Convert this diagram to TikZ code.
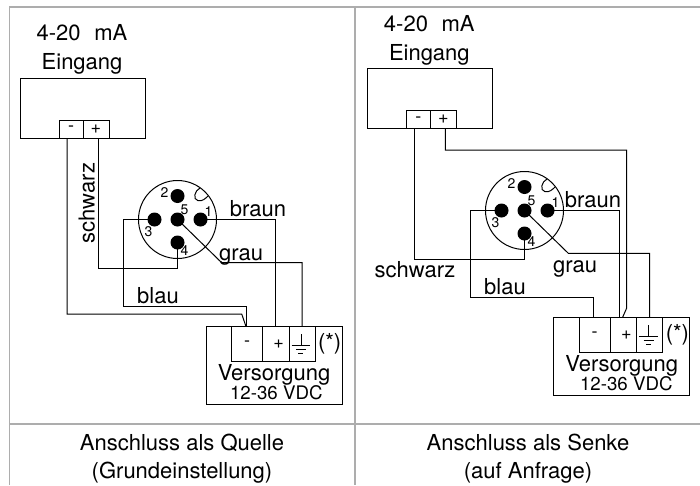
\documentclass[tikz,border=0pt]{standalone}
\usepackage{fontspec}
\setmainfont{TeX Gyre Heros}

\tikzset{
  rahmen/.style={draw=black!32, line width=1.5pt},
  wire/.style={draw, line width=1pt},
  box/.style={draw, line width=1pt, anchor=north west, inner sep=0pt, outer sep=0pt},
  klemme/.style={box, font=\fontsize{18}{20}\selectfont},
  beschr/.style={anchor=base, inner sep=0pt, font=\fontsize{22}{26}\selectfont},
  klein/.style={beschr, font=\fontsize{18.7}{22}\selectfont},
  nummer/.style={inner sep=0pt, font=\fontsize{14}{16}\selectfont},
  kontakt/.style={circle, fill=black, minimum size=14pt, inner sep=0pt},
}

\begin{document}
\begin{tikzpicture}[x=1pt,y=-1pt]
        \useasboundingbox (0,0) rectangle (700,485);
        \draw[rahmen] (9.5,485) -- (9.5,7) -- (700,7);
        \draw[rahmen] (355,7) -- (355,485);
        \draw[rahmen] (9.5,424) -- (700,424);

        % Stecker
        \foreach \pre/\cx/\cy in {L/177.5/219.5,R/524.5/210.5} {
          \begin{scope}[shift={(\cx,\cy)}]
            \node[circle, draw, line width=1pt, minimum size=78pt, inner sep=0pt] (\pre kreis) at (0,0) {};
            \draw[wire] (22.5,-31.5) .. controls (17,-29) and (15,-20) .. (20.5,-18.8) .. controls (25,-18) and (28,-21) .. (30.5,-23.5);
            \foreach \n/\x/\y/\lx/\ly in {1/23/0/31/-8,2/0/-23.5/-13/-27,3/-23/0/-29/12,4/0/23/7/31,5/0/0/7/-10} {
              \node[kontakt] (\pre p\n) at (\x,\y) {};
              \node[nummer] (\pre n\n) at (\lx,\ly) {\n};
            }
          \end{scope}
        }

        % Eingang und Versorgung
        \foreach \pre/\ex/\ey/\vx/\vy/\dx in {L/20/78/206/326.5/70.3,R/367.3/68.7/553.7/317.7/72.6} {
          \begin{scope}[shift={(\ex,\ey)}]
            \node[box, minimum width=125pt, minimum height=60pt] (\pre ein) at (0,0) {};
            \node[klemme, minimum width=24pt, minimum height=18pt] (\pre minus) at (39,42) {-};
            \node[klemme, minimum width=26pt, minimum height=18pt] (\pre plus) at (63,42) {+};
            \node[beschr] (\pre titel) at (62,-8.7) {Eingang};
            \node[beschr] (\pre strom) at (62,-37.3) {4-20\hskip.62em mA};
          \end{scope}
          \begin{scope}[shift={(\vx,\vy)}]
            \node[box, minimum width=136pt, minimum height=78pt] (\pre vers) at (0,0) {};
            \node[klemme, minimum width=31pt, minimum height=34.5pt] (\pre vminus) at (25.5,0) {\raisebox{-4pt}{-}};
            \node[klemme, minimum width=26.5pt, minimum height=34.5pt] (\pre vplus) at (56.5,0) {\raisebox{-4pt}{\hspace*{6pt}+}};
            \node[klemme, minimum width=26pt, minimum height=34.5pt] (\pre vgnd) at (83,0) {};
            \draw[wire] (95,7.5) -- (95,18.5) (85.7,18.5) -- (104,18.5);
            \draw[wire] (90,23) -- (100,23) (92.3,27) -- (97.3,27);
            \node[beschr] (\pre stern) at (123.7,23) {(*)};
            \node[beschr] (\pre versorgung) at (68,53.7) {Versorgung};
            \node[klein] (\pre vdc) at (\dx,72.6) {12-36 VDC};
          \end{scope}
        }

        % Quelle
        \node[beschr] (Lbraun) at (258,216.7) {braun};
        \node[beschr] (Lgrau) at (241,260) {grau};
        \node[beschr] (Lblau) at (158,303.3) {blau};
        \node[beschr, rotate=90] (Lschwarz) at (94.7,203) {schwarz};
        \draw[wire] ([xshift=-4pt]Lminus.south) |- (241.7,314) -- ([xshift=-1pt]Lvminus.north);
        \draw[wire] ([xshift=2pt]Lplus.south) |- (177.5,268) -- (Lp4.center);
        \draw[wire] (Lp3.center) -| (123.5,306.7) -| ([xshift=-1pt]Lvminus.north);
        \draw[wire] (Lp1.center) -| (Lvplus.north);
        \draw[wire] (Lp5.center) -- (221.7,262.7) -| (Lvgnd.north);
        \node[beschr] (Lquelle) at (182,450.7) {Anschluss als Quelle};
        \node[beschr] (Lgrund) at (182,478.3) {(Grundeinstellung)};

        % Senke
        \node[beschr] (Rbraun) at (593,207.3) {braun};
        \node[beschr] (Rgrau) at (575,272.7) {grau};
        \node[beschr] (Rblau) at (505,294.3) {blau};
        \node[beschr] (Rschwarz) at (415,277.3) {schwarz};
        \draw[wire] ([xshift=-4pt]Rminus.south) |- (524.5,259) -- (Rp4.center);
        \draw[wire] ([xshift=2pt]Rplus.south) |- (626.7,150) -- (626.7,308) -- ([xshift=-1pt]Rvplus.north);
        \draw[wire] (Rp3.center) -| (470.7,297.7) -| ([xshift=-1pt]Rvminus.north);
        \draw[wire] (Rp1.center) -| ([xshift=-3.5pt]Rvplus.north);
        \draw[wire] (Rp5.center) -- (568.3,253.3) -| (Rvgnd.north);
        \node[beschr] (Rsenke) at (528,450.7) {Anschluss als Senke};
        \node[beschr] (Ranfrage) at (528,478.3) {(auf Anfrage)};
\end{tikzpicture}
\end{document}
